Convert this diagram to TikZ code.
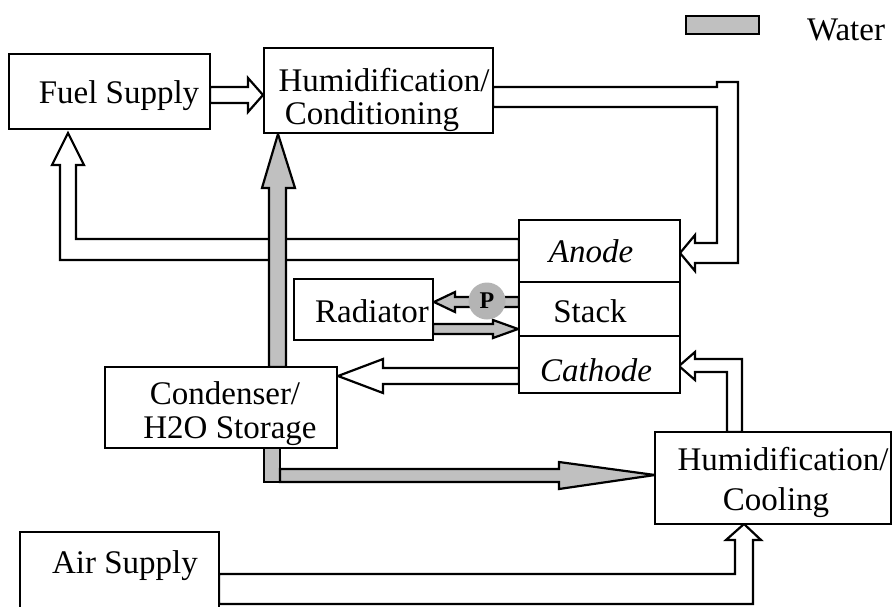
\documentclass[tikz,border=0pt]{standalone}
\usepackage{fontspec}
\setmainfont{Liberation Serif}
\definecolor{wgray}{HTML}{C0C0C0}
\definecolor{pgray}{HTML}{B4B4B4}
\begin{document}
\begin{tikzpicture}[x=1pt,y=-1pt,line join=miter,
  box/.style={draw, line width=2.2pt, fill=white, inner sep=0pt, outer sep=0pt, anchor=north west},
  lbl/.style={anchor=base, inner sep=0pt, font=\fontsize{33}{36}\selectfont},
  hollow/.style={draw, fill=white, line width=2.2pt},
  wet/.style={draw, fill=wgray, line width=2.2pt}]
\useasboundingbox (0,0) rectangle (893,606);

% connectors (block arrows)
\draw[hollow] (210,87) -- (248,87) -- (248,78) -- (263,95) -- (248,112) -- (248,103) -- (210,103) -- cycle;
\draw[hollow] (493,87) -- (717,87) -- (717,82) -- (738,82) -- (738,263) -- (695,263) -- (695,271) -- (680,253) -- (695,235) -- (695,243) -- (717,243) -- (717,107) -- (493,107) -- cycle;
\draw[hollow] (519,239) -- (76,239) -- (76,165) -- (84,165) -- (68,133) -- (52,165) -- (60,165) -- (60,260) -- (519,260) -- cycle;
\draw[wet] (269,367) -- (269,188) -- (262,188) -- (278,134) -- (295,188) -- (286,188) -- (286,367) -- cycle;
\draw[wet] (519,297) -- (455,297) -- (455,292) -- (434,302) -- (455,312) -- (455,307) -- (519,307) -- cycle;
\draw[wet] (433,324) -- (493,324) -- (493,320) -- (518,329) -- (493,338) -- (493,334) -- (433,334) -- cycle;
\draw[hollow] (519,368) -- (383,368) -- (383,359) -- (338,376) -- (383,393) -- (383,384) -- (519,384) -- cycle;
\draw[wet] (264,448) rectangle (280,482);
\draw[wet] (280,469) -- (559,469) -- (559,462) -- (655,475) -- (559,489) -- (559,482) -- (280,482) -- cycle;
\draw[hollow] (219,574) -- (735,574) -- (735,540) -- (726,540) -- (744,524) -- (761,540) -- (753,540) -- (753,604) -- (219,604) -- cycle;
\draw[hollow] (742,432) -- (742,359) -- (695,359) -- (695,352) -- (679,366) -- (695,380) -- (695,372) -- (727,372) -- (727,432) -- cycle;

% boxes
\node[box, minimum width=201pt, minimum height=75pt] (fuel) at (9,54) {};
\node[box, minimum width=229pt, minimum height=85pt] (hcond) at (264,48) {};
\node[box, minimum width=161pt, minimum height=173pt] (stack) at (519,220) {};
\draw[line width=2.2pt] (stack.west |- 0,282) -- (stack.east |- 0,282);
\draw[line width=2.2pt] (stack.west |- 0,336) -- (stack.east |- 0,336);
\node[box, minimum width=139pt, minimum height=61pt] (rad) at (294,279) {};
\node[box, minimum width=232pt, minimum height=81pt] (cond) at (105,367) {};
\node[box, minimum width=236pt, minimum height=92pt] (hcool) at (655,432) {};
\node[box, minimum width=199pt, minimum height=80pt] (air) at (20,532) {};
\node[box, fill=wgray, minimum width=73pt, minimum height=18pt] (legend) at (686,16) {};

% pump
\node[circle, fill=pgray, minimum size=37pt, inner sep=0pt] (pump) at (487,301) {};
\node[anchor=center, inner sep=0pt, font=\fontsize{24}{26}\selectfont\bfseries] (pumplbl) at (pump.center) {P};

% labels
\node[lbl] (tfuel) at (119,103) {Fuel Supply};
\node[lbl] (thc1) at (384,91) {Humidification/};
\node[lbl] (thc2) at (372,124) {Conditioning};
\node[lbl, font=\fontsize{33}{36}\selectfont\itshape] (tanode) at (591,262) {Anode};
\node[lbl] (tstack) at (590,322) {Stack};
\node[lbl, font=\fontsize{33}{36}\selectfont\itshape] (tcath) at (596,381) {Cathode};
\node[lbl] (trad) at (372,322) {Radiator};
\node[lbl] (tcond1) at (225,404) {Condenser/};
\node[lbl] (tcond2) at (230,438) {H2O Storage};
\node[lbl] (thcool1) at (783,470) {Humidification/};
\node[lbl] (thcool2) at (776,510) {Cooling};
\node[lbl] (tair) at (125,573) {Air Supply};
\node[lbl] (twater) at (846,40) {Water};
\end{tikzpicture}
\end{document}
